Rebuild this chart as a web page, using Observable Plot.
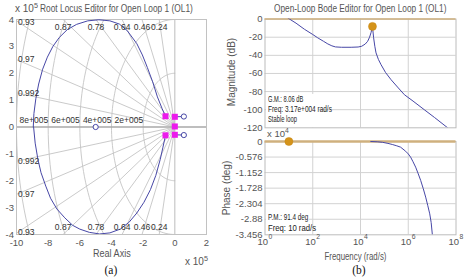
<!DOCTYPE html>
<html>
<head>
<meta charset="utf-8">
<script src="https://cdn.jsdelivr.net/npm/d3@7"></script>
<script src="https://cdn.jsdelivr.net/npm/@observablehq/plot@0.6"></script>
<style>
  html, body { margin: 0; padding: 0; background: #fff; }
  #fig { position: relative; width: 464px; height: 280px; overflow: hidden; background: #fff;
         font-family: "Liberation Sans", Arial, sans-serif; }
  #fig svg { position: absolute; }
  .t { position: absolute; white-space: nowrap; line-height: 1; }
  .t sup { font-size: 0.72em; vertical-align: 0.55em; line-height: 0; }
  .box { position: absolute; background: #fff; }
</style>
</head>
<body>
<div id="fig"></div>
<script>
// ---------- Root locus (all values in units of 1e5) ----------
const realTicks = [-10, -8, -6, -4, -2, 0, 2];
const imagTicks = [-4, -3, -2, -1, 0, 1, 2, 3, 4];
const dampingValues = [0.24, 0.46, 0.64, 0.78, 0.87, 0.93, 0.97, 0.992];
const naturalFreqs = [2, 4, 6, 8, 10];
const naturalFreqLabels = [2, 4, 6, 8];

// upper and lower branches of the locus
const locusUpperRe = [-0.59, -0.8, -1.1, -1.4, -1.74, -2.05, -2.4, -3.0, -3.5, -4.1, -4.8, -5.5, -6.2, -6.8, -7.3, -7.7, -8.05, -8.35, -8.6, -8.78, -8.9, -8.94];
const locusUpperIm = [0.40, 0.68, 1.12, 1.68, 2.22, 2.68, 3.1, 3.58, 3.83, 3.95, 3.99, 3.95, 3.82, 3.62, 3.33, 3.0, 2.6, 2.15, 1.6, 1.05, 0.5, 0];
const locusLowerRe = [-0.59, -0.75, -0.92, -1.2, -1.54, -1.95, -2.4, -2.9, -3.45, -4.1, -4.75, -5.4, -6.0, -6.45, -6.95, -7.45, -7.85, -8.15, -8.45, -8.65, -8.82, -8.92];
const locusLowerIm = [-0.32, -0.75, -1.2, -1.8, -2.33, -2.8, -3.2, -3.55, -3.8, -3.94, -3.98, -3.92, -3.8, -3.66, -3.38, -3.05, -2.65, -2.2, -1.7, -1.2, -0.6, 0];

// closed-loop poles (squares) and open-loop zeros (circles)
const clPoleRe = [-0.59, 0, 0, -0.59, 0];
const clPoleIm = [0.40, 0.38, 0.02, -0.31, -0.29];
const zeroRe = [0.57, 0.57, -5.0];
const zeroIm = [0.39, -0.30, 0];
// short branches from the right-hand poles to the right half-plane zeros
const branchFromRe = [0, 0], branchFromIm = [0.38, -0.29];
const branchToRe = [0.57, 0.57], branchToIm = [0.39, -0.30];

// ---------- Open-loop Bode ----------
const freqTicks = [1, 1e2, 1e4, 1e6, 1e8];
const freqExps = ["0", "2", "4", "6", "8"];
const magTicks = [0, -20, -40, -60, -80, -100, -120];
const phaseTicks = [0, -0.576, -1.152, -1.728, -2.304, -2.88, -3.456]; // x 10^4 deg

const magFreq = [8.9, 10.7, 20, 44.7, 100, 162, 282, 427, 631, 891, 1585, 4070, 7943, 11220, 15850, 19950, 23990, 27540, 30200, 31700, 33110, 35480, 39810, 44670, 56230, 72440, 112200, 190500, 354800, 691800, 1585000, 4677000, 12590000, 44670000];
const magDb   = [1.5, 0, -4.5, -11.2, -17, -20.7, -24.5, -27.4, -29.5, -30.7, -31.1, -31.1, -30.8, -30, -27.5, -24.5, -20, -15, -10.5, -8.06, -13, -20.7, -30, -37.3, -44.5, -50.3, -59, -66.9, -75, -83.5, -90.5, -100, -108.6, -120];

const phaseFreq = [26920, 50120, 83180, 141300, 213800, 331100, 478600, 776200, 1000000, 1259000, 1585000, 2042000, 2630000, 3311000, 4266000, 5370000, 6607000, 7943000, 9120000, 10230000, 11220000];
const phaseVal  = [0, -0.01, -0.03, -0.07, -0.11, -0.16, -0.21, -0.36, -0.46, -0.58, -0.75, -0.95, -1.2, -1.44, -1.75, -2.06, -2.38, -2.68, -3.0, -3.456, -3.8];

const gmFreq = 3.17e4, gmDb = -8.06;
const pmFreq = 10, pmPhase = 0;
const gmText = ["G.M.: 8.06 dB", "Freq: 3.17e+004 rad/s", "Stable loop"];
const pmText = ["P.M.: 91.4 deg", "Freq: 10 rad/s"];

// ---------- helpers ----------
const fig = document.getElementById("fig");
const font = '"Liberation Sans", Arial, sans-serif';
const locusColor = "#4747a6";
const gridGray = "#c4c4c4";
const tan = "#cfb07e";
const marker = "#d4931a";

function place(svg, left, top) {
  svg.style.left = left + "px";
  svg.style.top = top + "px";
  fig.appendChild(svg);
}

// text overlay; optional target width squeezes the glyphs horizontally
function label(html, o) {
  const el = document.createElement("div");
  el.className = "t";
  el.innerHTML = html;
  el.style.fontSize = (o.size || 10) + "px";
  el.style.color = o.color || "#555";
  el.style.fontFamily = o.family || font;
  fig.appendChild(el);
  const w = el.offsetWidth, h = el.offsetHeight;
  const s = o.width ? o.width / w : 1;
  const left = o.cx != null ? o.cx - w / 2 : o.left;
  el.style.left = left + "px";
  el.style.top = (o.cy - h / 2) + "px";
  el.style.transformOrigin = o.cx != null ? "50% 50%" : "0 50%";
  el.style.transform = o.rotate ? "rotate(-90deg)" : `scaleX(${s})`;
  return el;
}
function box(left, top, width, height) {
  const el = document.createElement("div");
  el.className = "box";
  Object.assign(el.style, {left: left + "px", top: top + "px", width: width + "px", height: height + "px"});
  fig.appendChild(el);
}

// ---------- root locus panel ----------
const upper = locusUpperRe.map((x, i) => ({x, y: locusUpperIm[i]}));
const lower = locusLowerRe.map((x, i) => ({x, y: locusLowerIm[i]}));
const poles = clPoleRe.map((x, i) => ({x, y: clPoleIm[i]}));
const zeros = zeroRe.map((x, i) => ({x, y: zeroIm[i]}));
const branches = branchFromRe.map((x, i) => ({x1: x, y1: branchFromIm[i], x2: branchToRe[i], y2: branchToIm[i]}));

// constant-damping rays and constant-frequency arcs of the s-plane grid
const rays = dampingValues.flatMap(z => [1, -1].map(sg => ({x2: -z * 30, y2: sg * Math.sqrt(1 - z * z) * 30})));
const arcs = naturalFreqs.flatMap(w => d3.range(0, 181, 2).map(a => {
  const t = (90 + a) * Math.PI / 180;
  return {w, x: w * Math.cos(t), y: w * Math.sin(t)};
}));
const dampLabels = dampingValues.flatMap(z => {
  const s = Math.sqrt(1 - z * z), xTop = -z * 4 / s;
  return [1, -1].map(sg => xTop >= -10
    ? {z, x: xTop, y: sg * 4, edge: sg > 0 ? "top" : "bottom"}
    : {z, x: -10, y: sg * Math.min(10 * s / z, 3.9), edge: "left"});
});

const rl = Plot.plot({
  width: 232, height: 280,
  marginLeft: 16, marginRight: 26, marginTop: 19, marginBottom: 46,
  style: {fontFamily: font, fontSize: "9.5px", color: "#555", background: "transparent"},
  x: {domain: [-10, 2], label: null},
  y: {domain: [-4, 4], label: null},
  marks: [
    Plot.line(arcs, {x: "x", y: "y", z: "w", stroke: gridGray, strokeWidth: 0.9, clip: true}),
    Plot.link(rays, {x1: 0, y1: 0, x2: "x2", y2: "y2", stroke: gridGray, strokeWidth: 0.9, clip: true}),
    Plot.ruleX([0], {stroke: "#bdbdbd", strokeWidth: 1}),
    Plot.ruleY([0], {stroke: "#a9a9a9", strokeWidth: 1.6}),
    Plot.frame({stroke: "#c2c2c2"}),
    Plot.axisX(realTicks, {tickSize: 0, tickPadding: 5, tickFormat: d => String(d), fontSize: 9.5, label: null}),
    Plot.axisY(imagTicks, {tickSize: 0, tickPadding: 2.5, tickFormat: d => String(d), fontSize: 9.5, label: null}),
    Plot.line(upper, {x: "x", y: "y", stroke: locusColor, strokeWidth: 1, clip: true}),
    Plot.line(lower, {x: "x", y: "y", stroke: locusColor, strokeWidth: 1, clip: true}),
    Plot.text(dampLabels.filter(d => d.edge === "top"), {x: "x", y: "y", text: d => String(d.z), dy: 8, fontSize: 8.5, fill: "#333"}),
    Plot.text(dampLabels.filter(d => d.edge === "bottom"), {x: "x", y: "y", text: d => String(d.z), dy: -7.5, fontSize: 8.5, fill: "#333"}),
    Plot.text(dampLabels.filter(d => d.edge === "left"), {x: "x", y: "y", text: d => String(d.z), textAnchor: "start", dx: 1.5, fontSize: 8.5, fill: "#333"}),
    Plot.text(naturalFreqLabels, {x: d => -d, y: 0, text: d => `${d}e+005`, textAnchor: "end", dy: -7, fontSize: 8.5, fill: "#333"}),
    Plot.link(branches, {x1: "x1", y1: "y1", x2: "x2", y2: "y2", stroke: locusColor, strokeWidth: 1}),
    Plot.dot(zeros, {x: "x", y: "y", r: 2.6, stroke: locusColor, fill: "white", strokeWidth: 1}),
    Plot.dot(poles, {x: "x", y: "y", symbol: "square", r: 3.4, fill: "#ec1aec", stroke: "none"})
  ]
});
place(rl, 0, 0);

// ---------- magnitude panel ----------
const magData = magFreq.map((f, i) => ({f, v: magDb[i]}));
const mag = Plot.plot({
  width: 232, height: 134,
  marginLeft: 32.5, marginRight: 8.5, marginTop: 18.6, marginBottom: 6.7,
  style: {fontFamily: font, fontSize: "9.5px", color: "#555", background: "transparent"},
  x: {type: "log", domain: [1, 1e8], axis: null},
  y: {domain: [-120, 0], label: null},
  marks: [
    Plot.gridX(freqTicks.slice(1, -1), {stroke: "#d2d2d2", strokeOpacity: 1}),
    Plot.gridY(magTicks.slice(1, -1), {stroke: "#d2d2d2", strokeOpacity: 1}),
    Plot.frame({stroke: "#bcbcbc"}),
    Plot.ruleY([0], {stroke: tan, strokeWidth: 1.5}),
    Plot.axisY(magTicks, {tickSize: 0, tickPadding: 2.5, tickFormat: d => String(d), fontSize: 9.5, label: null}),
    Plot.line(magData, {x: "f", y: "v", stroke: locusColor, strokeWidth: 1, clip: true}),
    Plot.dot([{f: gmFreq, v: gmDb}], {x: "f", y: "v", r: 4, fill: marker, stroke: "#c7850f", strokeWidth: 0.5})
  ]
});
place(mag, 232, 0);

// ---------- phase panel ----------
const phData = phaseFreq.map((f, i) => ({f, v: phaseVal[i]}));
const ph = Plot.plot({
  width: 232, height: 146,
  marginLeft: 32.5, marginRight: 8.5, marginTop: 7, marginBottom: 45.7,
  style: {fontFamily: font, fontSize: "9.5px", color: "#555", background: "transparent"},
  x: {type: "log", domain: [1, 1e8], axis: null},
  y: {domain: [-3.456, 0], label: null},
  marks: [
    Plot.gridX(freqTicks.slice(1, -1), {stroke: "#d2d2d2", strokeOpacity: 1}),
    Plot.gridY(phaseTicks.slice(1, -1), {stroke: "#d2d2d2", strokeOpacity: 1}),
    Plot.frame({stroke: "#bcbcbc"}),
    Plot.ruleY([0], {stroke: tan, strokeWidth: 2.6}),
    Plot.axisY(phaseTicks, {tickSize: 0, tickPadding: 2.5, tickFormat: d => String(d), fontSize: 9.5, label: null}),
    Plot.text(freqTicks, {x: d => d, frameAnchor: "bottom", text: () => "10", textAnchor: "end", dx: 3, dy: 7, lineAnchor: "middle", fontSize: 9.5}),
    Plot.text(freqTicks, {x: d => d, frameAnchor: "bottom", text: (d, i) => freqExps[i], textAnchor: "start", dx: 3.4, dy: 2.5, lineAnchor: "middle", fontSize: 6.8}),
    Plot.line(phData, {x: "f", y: "v", stroke: locusColor, strokeWidth: 1, clip: true}),
    Plot.dot([{f: pmFreq, v: pmPhase}], {x: "f", y: "v", r: 4, fill: marker, stroke: "#c7850f", strokeWidth: 0.5})
  ]
});
place(ph, 232, 134);

// ---------- titles, axis names and margin readouts ----------
label("x 10<sup>5</sup>", {left: 15, cy: 9, size: 10});
label("Root Locus Editor for Open Loop 1 (OL1)", {left: 40, cy: 8.5, size: 10, width: 153});
label("Real Axis", {cx: 111.7, cy: 254, size: 10, width: 38});
label("x 10<sup>5</sup>", {left: 185, cy: 262, size: 10});
label("(a)", {cx: 111, cy: 271, size: 11.5, color: "#111", family: '"Liberation Serif", "Times New Roman", serif'});

label("Open-Loop Bode Editor for Open Loop 1 (OL1)", {cx: 359.5, cy: 9, size: 10, width: 172});
label("Magnitude (dB)", {cx: 231.5, cy: 72, size: 10, rotate: true});
label("Phase (deg)", {cx: 226.5, cy: 188, size: 10, rotate: true});
label("Frequency (rad/s)", {cx: 355.3, cy: 256.5, size: 10, width: 62});
label("(b)", {cx: 358.7, cy: 271, size: 11.5, color: "#111", family: '"Liberation Serif", "Times New Roman", serif'});
label("x 10<sup>4</sup>", {left: 267, cy: 133.5, size: 9.5});

box(265.5, 93.5, 52.5, 33);
label(gmText[0], {left: 268, cy: 99, size: 9, color: "#222", width: 35.5});
label(gmText[1], {left: 268, cy: 109, size: 9, color: "#222", width: 64});
label(gmText[2], {left: 268, cy: 119, size: 9, color: "#222", width: 29});

box(265.5, 211, 43.5, 22.5);
label(pmText[0], {left: 268, cy: 217.7, size: 9, color: "#222", width: 40});
label(pmText[1], {left: 268, cy: 228.3, size: 9, color: "#222", width: 48});
</script>
</body>
</html>
